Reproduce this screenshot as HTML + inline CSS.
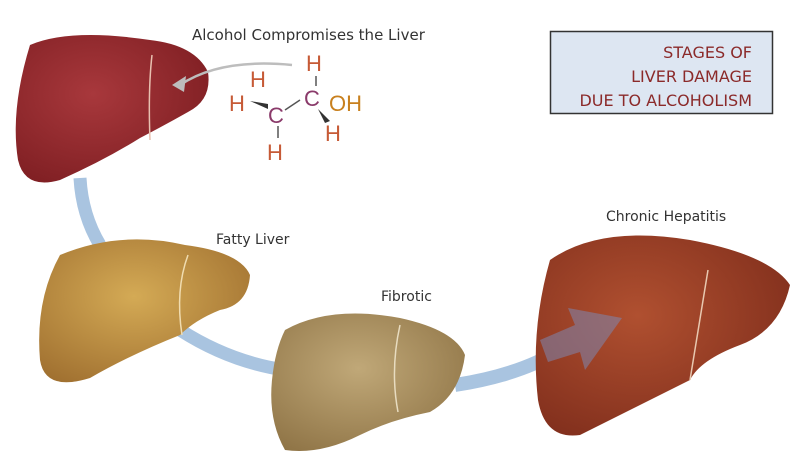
<!DOCTYPE html>
<html><head><style>
body{margin:0;background:#fff;}
svg{display:block;font-family:"DejaVu Sans","Liberation Sans",sans-serif;}
</style></head><body>
<svg width="800" height="463" viewBox="0 0 800 463">
<defs>
<radialGradient id="g1" cx="40%" cy="40%" r="70%"><stop offset="0" stop-color="#a8383c"/><stop offset="1" stop-color="#7e1e22"/></radialGradient>
<radialGradient id="g2" cx="45%" cy="40%" r="70%"><stop offset="0" stop-color="#d4aa55"/><stop offset="1" stop-color="#a07030"/></radialGradient>
<radialGradient id="g3" cx="45%" cy="40%" r="70%"><stop offset="0" stop-color="#c0a878"/><stop offset="1" stop-color="#8f7446"/></radialGradient>
<radialGradient id="g4" cx="40%" cy="40%" r="70%"><stop offset="0" stop-color="#b05030"/><stop offset="1" stop-color="#802e1c"/></radialGradient>
</defs>
<!-- blue connectors -->
<path d="M80 178 Q82 215 100 245" stroke="#a9c4e0" stroke-width="13" fill="none"/>
<path d="M180 330 Q230 362 285 370" stroke="#a9c4e0" stroke-width="13" fill="none"/>
<path d="M455 385 Q520 375 560 350" stroke="#a9c4e0" stroke-width="14" fill="none"/>
<!-- liver 1 -->
<path d="M30 45 Q70 28 150 40 Q195 45 208 72 Q212 100 188 112 Q165 125 140 138 Q105 160 60 180 Q25 190 18 160 Q10 110 30 45Z" fill="url(#g1)"/>
<path d="M152 55 Q148 90 150 140" stroke="#e8c0b0" stroke-width="1.5" fill="none"/>
<path d="M180 85 Q220 58 292 65" stroke="#bdbdbd" stroke-width="2.5" fill="none"/>
<polygon points="172,85 186,76 184,92" fill="#bdbdbd"/>
<!-- liver 2 -->
<path d="M60 255 Q120 230 185 245 Q240 252 250 275 Q248 305 220 310 Q195 320 180 335 Q130 355 90 378 Q45 392 40 360 Q35 300 60 255Z" fill="url(#g2)"/>
<path d="M188 255 Q175 290 182 335" stroke="#f0dcb0" stroke-width="1.5" fill="none"/>
<!-- liver 3 -->
<path d="M285 330 Q330 305 400 318 Q455 330 465 355 Q460 395 430 412 Q390 420 360 435 Q320 455 285 450 Q268 420 272 380 Q275 350 285 330Z" fill="url(#g3)"/>
<path d="M400 325 Q390 370 398 412" stroke="#e8dcc0" stroke-width="1.5" fill="none"/>
<!-- liver 4 -->
<path d="M550 260 Q600 225 690 240 Q770 255 790 285 Q780 330 740 345 Q700 360 690 380 Q640 405 580 435 Q545 440 538 400 Q530 330 550 260Z" fill="url(#g4)"/>
<path d="M708 270 Q700 320 690 380" stroke="#e8c8b0" stroke-width="1.5" fill="none"/>
<polygon points="540,340 575,325 568,308 622,318 585,370 580,352 548,362" fill="#7e86b0" opacity="0.55"/>
<!-- labels -->
<text x="192" y="40" font-size="15" fill="#333">Alcohol Compromises the Liver</text>
<text x="216" y="244" font-size="14" fill="#333">Fatty Liver</text>
<text x="381" y="301" font-size="14" fill="#333">Fibrotic</text>
<text x="606" y="221" font-size="14" fill="#333">Chronic Hepatitis</text>
<!-- molecule -->
<g font-family="Liberation Sans,sans-serif" font-size="22">
<text x="306" y="71" fill="#c65a36">H</text>
<text x="250" y="87" fill="#c65a36">H</text>
<text x="229" y="111" fill="#c65a36">H</text>
<text x="268" y="123" fill="#8a3a6a">C</text>
<text x="304" y="106" fill="#8a3a6a">C</text>
<text x="329" y="111" fill="#c8801e">OH</text>
<text x="325" y="141" fill="#c65a36">H</text>
<text x="267" y="160" fill="#c65a36">H</text>
</g>
<line x1="316" y1="76" x2="316" y2="86" stroke="#555" stroke-width="1.5"/>
<line x1="285" y1="110" x2="300" y2="100" stroke="#555" stroke-width="1.5"/>
<line x1="278" y1="126" x2="278" y2="138" stroke="#555" stroke-width="1.5"/>
<polygon points="250,101 268,104 268,109" fill="#333"/>
<polygon points="318,109 330,121 325,123" fill="#333"/>
<!-- box -->
<rect x="550.5" y="31.5" width="222" height="82" fill="#dde6f2" stroke="#333" stroke-width="1.5"/>
<g font-size="16" fill="#8b2a2a" text-anchor="end">
<text x="752" y="58">STAGES OF</text>
<text x="752" y="82">LIVER DAMAGE</text>
<text x="752" y="106">DUE TO ALCOHOLISM</text>
</g>
</svg>
</body></html>
